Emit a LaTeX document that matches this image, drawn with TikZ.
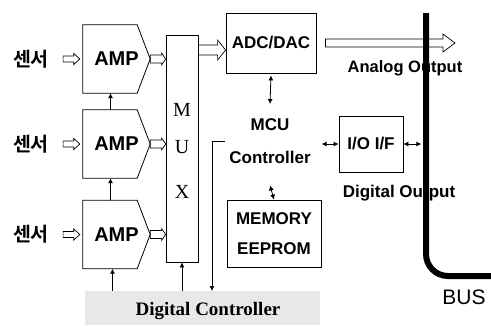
\documentclass[tikz,border=0pt]{standalone}
\usepackage{fontspec}
\setmainfont{Liberation Serif}
\setsansfont{Liberation Sans}
\newfontfamily\krfont{Noto Sans CJK KR}[BoldFont={Noto Sans CJK KR Bold}]
\usepackage{xcolor}
\usetikzlibrary{arrows.meta,positioning,calc}

\newcommand{\hollowarrow}[5]{%
  \draw[harrow] let \p1=#1, \p2=#2 in
    (\x1,{\y1+#3pt}) -- ({\x2-#5pt},{\y1+#3pt}) -- ({\x2-#5pt},{\y1+#4pt}) -- (\x2,\y1)
    -- ({\x2-#5pt},{\y1-#4pt}) -- ({\x2-#5pt},{\y1-#3pt}) -- (\x1,{\y1-#3pt}) -- cycle;}
\newcommand{\ampshape}[1]{%
  \draw[line width=0.8pt] (#1.north west) -- ([xshift=-13pt]#1.north east) -- (#1.east)
    -- ([xshift=-13pt]#1.south east) -- (#1.south west) -- cycle;}

\begin{document}
\begin{tikzpicture}[x=1pt,y=-1pt,
    amp/.style={minimum width=67pt, minimum height=68pt, inner sep=0pt,
        font=\sffamily\bfseries\fontsize{20}{20}\selectfont},
    box/.style={draw, line width=0.8pt, inner sep=0pt},
    lbl/.style={font=\sffamily\bfseries\fontsize{17}{17}\selectfont, inner sep=0pt},
    sensor/.style={font=\krfont\bfseries\fontsize{19.5}{19.5}\selectfont, inner sep=0pt},
    muxletter/.style={font=\rmfamily\fontsize{20}{20}\selectfont, inner sep=0pt},
    harrow/.style={draw, line width=0.7pt, fill=none},
    tip/.style={line width=0.8pt, -{Latex[length=5pt,width=5pt]}},
    both/.style={line width=0.8pt, {Latex[length=5pt,width=5pt]}-{Latex[length=5pt,width=5pt]}}]
    \useasboundingbox (0,0) rectangle (491,325);

    \fill[gray!18] (85,291) rectangle (320,325);
    \node[inner sep=0pt, minimum width=235pt, minimum height=34pt] (dc) at (202.5,308) {};
    \node[font=\rmfamily\bfseries\fontsize{19}{19}\selectfont, inner sep=0pt] (dctext) at (208,311) {Digital Controller};

    \node[amp] (amp1) at (116.5,59) {AMP};
    \node[amp] (amp2) at (116.5,144) {AMP};
    \node[amp] (amp3) at (116.5,234.5) {AMP};
    \ampshape{amp1}
    \ampshape{amp2}
    \ampshape{amp3}

    \node[sensor] (s1) at (31,59) {센서};
    \node[sensor] (s2) at (31,144) {센서};
    \node[sensor] (s3) at (31,234.5) {센서};

    \node[box, minimum width=32pt, minimum height=227pt] (mux) at (182,148.5) {};
    \node[muxletter] (muxm) at (182,110) {M};
    \node[muxletter] (muxu) at (182,147) {U};
    \node[muxletter] (muxx) at (182,192) {X};

    \node[box, lbl, minimum width=90pt, minimum height=60pt] (adc) at (271,43) {ADC/DAC};
    \node[lbl] (mcu) at (270,125) {MCU};
    \node[lbl] (ctrl) at (270,157) {Controller};
    \node[box, lbl, minimum width=94pt, minimum height=67pt, align=center] (mem) at (274,233.5) {MEMORY\\[13pt]EEPROM};
    \node[box, lbl, minimum width=64pt, minimum height=56pt] (io) at (371,144) {I/O I/F};

    \node[lbl, font=\sffamily\bfseries\fontsize{16.5}{16.5}\selectfont] (aotext) at (405,68) {Analog Output};
    \node[lbl] (dotext) at (399,193) {Digital Output};
    \node[font=\sffamily\fontsize{21}{21}\selectfont, inner sep=0pt] (bustext) at (464,297) {BUS};
    \coordinate (aout) at (455,43);
    \coordinate (brk) at (225,141);
    \coordinate (brkdown) at (212,291);

    \hollowarrow{([xshift=14pt]s1.east)}{([xshift=-3pt]amp1.west)}{3}{5.5}{6}
    \hollowarrow{([xshift=14pt]s2.east)}{([xshift=-3pt]amp2.west)}{3}{5.5}{6}
    \hollowarrow{([xshift=14pt]s3.east)}{([xshift=-3pt]amp3.west)}{3}{5.5}{6}
    \hollowarrow{(amp1.east)}{(amp1.east -| mux.west)}{4}{6}{4}
    \hollowarrow{(amp2.east)}{(amp2.east -| mux.west)}{4}{6}{4}
    \hollowarrow{(amp3.east)}{(amp3.east -| mux.west)}{4}{6}{4}
    \hollowarrow{([yshift=-7pt]adc.west -| mux.east)}{([yshift=-7pt]adc.west)}{5}{10}{8}
    \hollowarrow{([xshift=9pt]adc.east)}{(aout)}{4}{9}{12}

    \draw[tip] ([xshift=-6pt]amp2.north) -- ([xshift=-6pt]amp1.south);
    \draw[tip] ([xshift=-6pt]amp3.north) -- ([xshift=-6pt]amp2.south);
    \draw[tip] (dc.north -| amp3.south) ++(-4,0) -- ([xshift=-4pt]amp3.south);
    \draw[tip] (dc.north -| mux.south) -- (mux.south);
    \draw[tip] (brk) -| (brkdown);

    \draw[both] ([yshift=-2pt]adc.south) -- ([yshift=-2pt,xshift=-1pt]adc.south |- 0,102);
    \draw[both] ([yshift=-22pt]ctrl.south) -- (mem.north);
    \draw[both] ([xshift=-17pt]io.west) -- (io.west);
    \draw[both] (io.east) -- ([xshift=18pt]io.east);

    \draw[line width=6pt, rounded corners=22pt] (426,13) -- (426,276) -- (491,276);
\end{tikzpicture}
\end{document}
